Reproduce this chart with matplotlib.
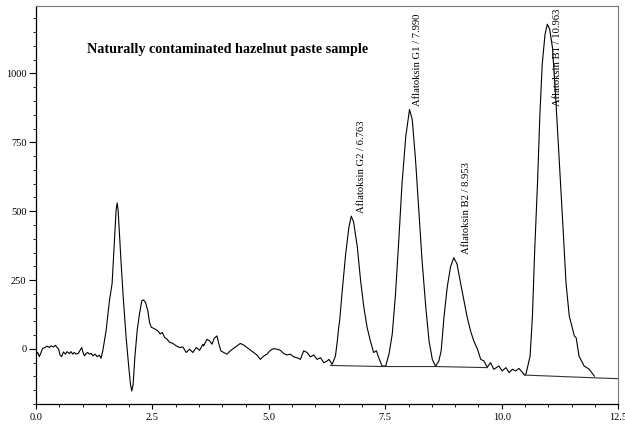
import matplotlib.pyplot as plt
from matplotlib.ticker import MultipleLocator

SERIF = ["Liberation Serif", "DejaVu Serif"]

# retention time (min) and detector signal
time_min = [
    0.000, 0.036, 0.072, 0.108, 0.143, 0.194, 0.237, 0.287, 0.323, 0.373,
    0.416, 0.452, 0.487, 0.516, 0.552, 0.588, 0.631, 0.667, 0.717, 0.753,
    0.789, 0.824, 0.860, 0.910, 0.946, 0.982, 1.004, 1.039, 1.075, 1.111,
    1.147, 1.183, 1.219, 1.269, 1.312, 1.362, 1.398,
    1.434, 1.505, 1.577, 1.634, 1.685, 1.720, 1.742, 1.763, 1.792, 1.828,
    1.878, 1.935, 1.993, 2.029, 2.057, 2.086, 2.122, 2.172, 2.222, 2.272,
    2.308, 2.351, 2.401, 2.437, 2.473, 2.545, 2.616, 2.667, 2.710, 2.760,
    2.810, 2.867, 2.939, 3.011, 3.082, 3.154, 3.226, 3.297, 3.369, 3.441,
    3.513, 3.584, 3.600, 3.671, 3.728, 3.778, 3.828, 3.885, 3.928, 3.971,
    4.029, 4.100, 4.172, 4.244, 4.315, 4.387, 4.459, 4.530, 4.602, 4.674,
    4.745, 4.817, 4.889, 4.961, 5.032, 5.104, 5.176, 5.247, 5.319, 5.391,
    5.462, 5.534, 5.606, 5.677, 5.749, 5.821, 5.892, 5.964, 6.036, 6.108,
    6.179, 6.251, 6.29, 6.36,
    6.43, 6.47, 6.50, 6.52, 6.57, 6.65, 6.72, 6.77, 6.82, 6.90,
    6.97, 7.04, 7.11, 7.18, 7.25, 7.31, 7.36, 7.43, 7.51, 7.58,
    7.65, 7.72, 7.79, 7.86, 7.94, 8.02, 8.08, 8.15, 8.22, 8.29,
    8.37, 8.44, 8.51, 8.58, 8.65, 8.70, 8.76, 8.83, 8.90, 8.97,
    9.04, 9.12, 9.19, 9.26, 9.33, 9.40, 9.48, 9.55, 9.62, 9.69,
    9.76, 9.83, 9.94, 10.01, 10.09, 10.16, 10.23, 10.30, 10.37, 10.45,
    10.49, 10.52, 10.61, 10.66, 10.71, 10.77, 10.82, 10.87, 10.93, 10.98,
    11.03, 11.09, 11.16, 11.23, 11.31, 11.38, 11.45, 11.56, 11.60, 11.66,
    11.77, 11.88, 11.99,
]
signal = [
    -19, -13, -28, -13, 2, 5, 10, 5, 11, 7,
    13, 5, -1, -22, -28, -11, -19, -10, -17, -10,
    -19, -13, -19, -16, -5, 5, -10, -25, -17, -13,
    -19, -16, -25, -19, -28, -23, -34,
    -7, 66, 175, 237, 394, 504, 530, 504, 418, 310,
    175, 42, -68, -129, -153, -129, -32, 66, 127, 175,
    178, 169, 139, 97, 79, 73, 66, 54, 60, 42,
    36, 24, 20, 11, 5, 7, -13, -1, -13, 5,
    -5, 17, 11, 35, 29, 17, 39, 47, 17, -7,
    -13, -19, -7, 2, 11, 20, 14, 5, -4, -13,
    -22, -38, -26, -19, -5, 1, -1, -5, -17, -22,
    -19, -29, -32, -38, -7, -13, -29, -22, -38, -32,
    -50, -44, -38, -56,
    -26, 29, 78, 102, 200, 346, 443, 482, 461, 370,
    248, 151, 78, 29, -13, -7, -32, -62, -62, -19,
    54, 200, 394, 601, 771, 869, 832, 686, 504, 321,
    151, 29, -38, -63, -44, -7, 114, 224, 297, 331,
    309, 236, 175, 114, 66, 29, -1, -38, -44, -67,
    -50, -74, -62, -80, -68, -86, -74, -80, -71, -86,
    -95, -92, -26, 120, 364, 607, 851, 1033, 1142, 1179,
    1161, 1094, 911, 704, 461, 242, 120, 47, 40, -26,
    -62, -74, -99,
]

# integration baselines drawn under the peaks
base1_x = [6.32, 7.43, 8.58, 9.69]
base1_y = [-60, -64, -64, -68]
base2_x = [10.49, 11.99, 12.5]
base2_y = [-95, -105, -108]

peak_names = ["Aflatoksin G2 / 6.763", "Aflatoksin G1 / 7.990",
              "Aflatoksin B2 / 8.953", "Aflatoksin B1 / 10.963"]
label_x = [6.98, 8.20, 9.25, 11.20]
label_y = [493, 883, 343, 883]

fig = plt.figure(figsize=(6.25, 4.29), dpi=100)
ax = fig.add_axes([0.0576, 0.0583, 0.9314, 0.9277])

ax.plot(time_min, signal, color="black", lw=0.8)
ax.plot(base1_x, base1_y, color="#333333", lw=0.8)
ax.plot(base2_x, base2_y, color="#333333", lw=0.8)

for name, lx, ly in zip(peak_names, label_x, label_y):
    ax.text(lx, ly, name, rotation=90, ha="center", va="bottom",
            fontsize=7.7, family=SERIF)

ax.text(1.10, 1088, "Naturally contaminated hazelnut paste sample",
        fontsize=10.2, fontweight="bold", family=SERIF, va="center")

ax.set_xlim(0, 12.5)
ax.set_ylim(-200, 1245)
ax.xaxis.set_major_locator(MultipleLocator(2.5))
ax.xaxis.set_minor_locator(MultipleLocator(0.5))
ax.yaxis.set_major_locator(MultipleLocator(250))
ax.yaxis.set_minor_locator(MultipleLocator(50))
ax.xaxis.set_major_formatter(lambda v, p: f"{v:.1f}")
ax.yaxis.set_major_formatter(lambda v, p: f"{v:.0f}")

ax.tick_params(axis="y", which="major", length=4.8, width=0.8, pad=2)
ax.tick_params(axis="y", which="minor", length=2, width=0.6)
ax.tick_params(axis="x", which="major", length=3.8, width=0.8, pad=2.5)
ax.tick_params(axis="x", which="minor", length=2.4, width=0.6)
for lab in ax.get_xticklabels() + ax.get_yticklabels():
    lab.set_family(SERIF)
    lab.set_fontsize(7.5)

for side in ["top", "right"]:
    ax.spines[side].set_color("#777777")
    ax.spines[side].set_linewidth(0.8)
for side in ["left", "bottom"]:
    ax.spines[side].set_linewidth(0.9)

fig.savefig("out.png", dpi=100)
